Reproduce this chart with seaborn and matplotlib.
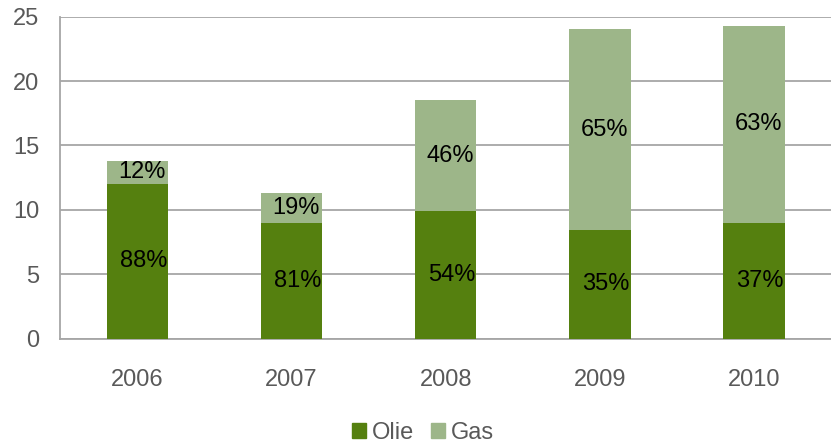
import matplotlib
matplotlib.use("Agg")
import matplotlib.pyplot as plt
import seaborn as sns
import pandas as pd
from matplotlib.patches import Patch

years = ["2006", "2007", "2008", "2009", "2010"]
olie = [12.03, 9.0, 9.88, 8.45, 9.0]
gas = [1.76, 2.33, 8.65, 15.57, 15.3]
olie_pct = ["88%", "81%", "54%", "35%", "37%"]
gas_pct = ["12%", "19%", "46%", "65%", "63%"]

dark = "#55800f"
light = "#9db689"
grey = "#a6a6a6"
txt = "#595959"

df = pd.DataFrame({"year": years, "olie": olie, "gas": gas})
df["total"] = df["olie"] + df["gas"]

sns.set_style("white")
plt.rcParams["font.family"] = ["Liberation Sans", "DejaVu Sans"]

fig = plt.figure(figsize=(8.31, 4.45), dpi=100)
ax = fig.add_axes([0.0726, 0.2393, 0.9274, 0.7232])

# totaal (gas bovenop) eerst, daarna olie eroverheen
sns.barplot(data=df, x="year", y="total", order=years, color=light,
            saturation=1, width=0.4, ax=ax, zorder=2, linewidth=0)
sns.barplot(data=df, x="year", y="olie", order=years, color=dark,
            saturation=1, width=0.4, ax=ax, zorder=3, linewidth=0)

for i, yr in enumerate(years):
    ax.text(i + 0.04, olie[i] / 2, olie_pct[i], ha="center", va="center",
            fontsize=17, color="black", zorder=4)
    ax.text(i + 0.03, olie[i] + gas[i] / 2, gas_pct[i], ha="center", va="center",
            fontsize=17, color="black", zorder=4)

ax.set_xlim(-0.5, 4.5)
ax.set_ylim(0, 25)
ax.set_yticks([0, 5, 10, 15, 20, 25])
ax.set_xlabel("")
ax.set_ylabel("")
ax.set_axisbelow(True)
ax.yaxis.grid(True, color=grey, lw=1.3)
ax.xaxis.grid(False)

for s in ["top", "right"]:
    ax.spines[s].set_visible(False)
for s in ["left", "bottom"]:
    ax.spines[s].set_color(grey)
    ax.spines[s].set_linewidth(1.3)

ax.set_xticks([-0.5, 0.5, 1.5, 2.5, 3.5, 4.5], minor=True)
ax.tick_params(axis="x", which="minor", length=5.5, color=grey, width=1.3)
ax.tick_params(axis="x", which="major", length=0, pad=22, labelsize=17, labelcolor=txt)
ax.tick_params(axis="y", length=5, color=grey, width=1.3, pad=10, labelsize=17, labelcolor=txt)

handles = [Patch(color=dark, label="Olie"), Patch(color=light, label="Gas")]
fig.legend(handles=handles, loc="center", bbox_to_anchor=(423 / 831, 1 - 433 / 445),
           ncol=2, frameon=False, fontsize=17, handlelength=0.6, handleheight=0.6,
           handletextpad=0.25, columnspacing=0.7, labelcolor=txt, borderaxespad=0)

fig.savefig("out.png", dpi=100)
